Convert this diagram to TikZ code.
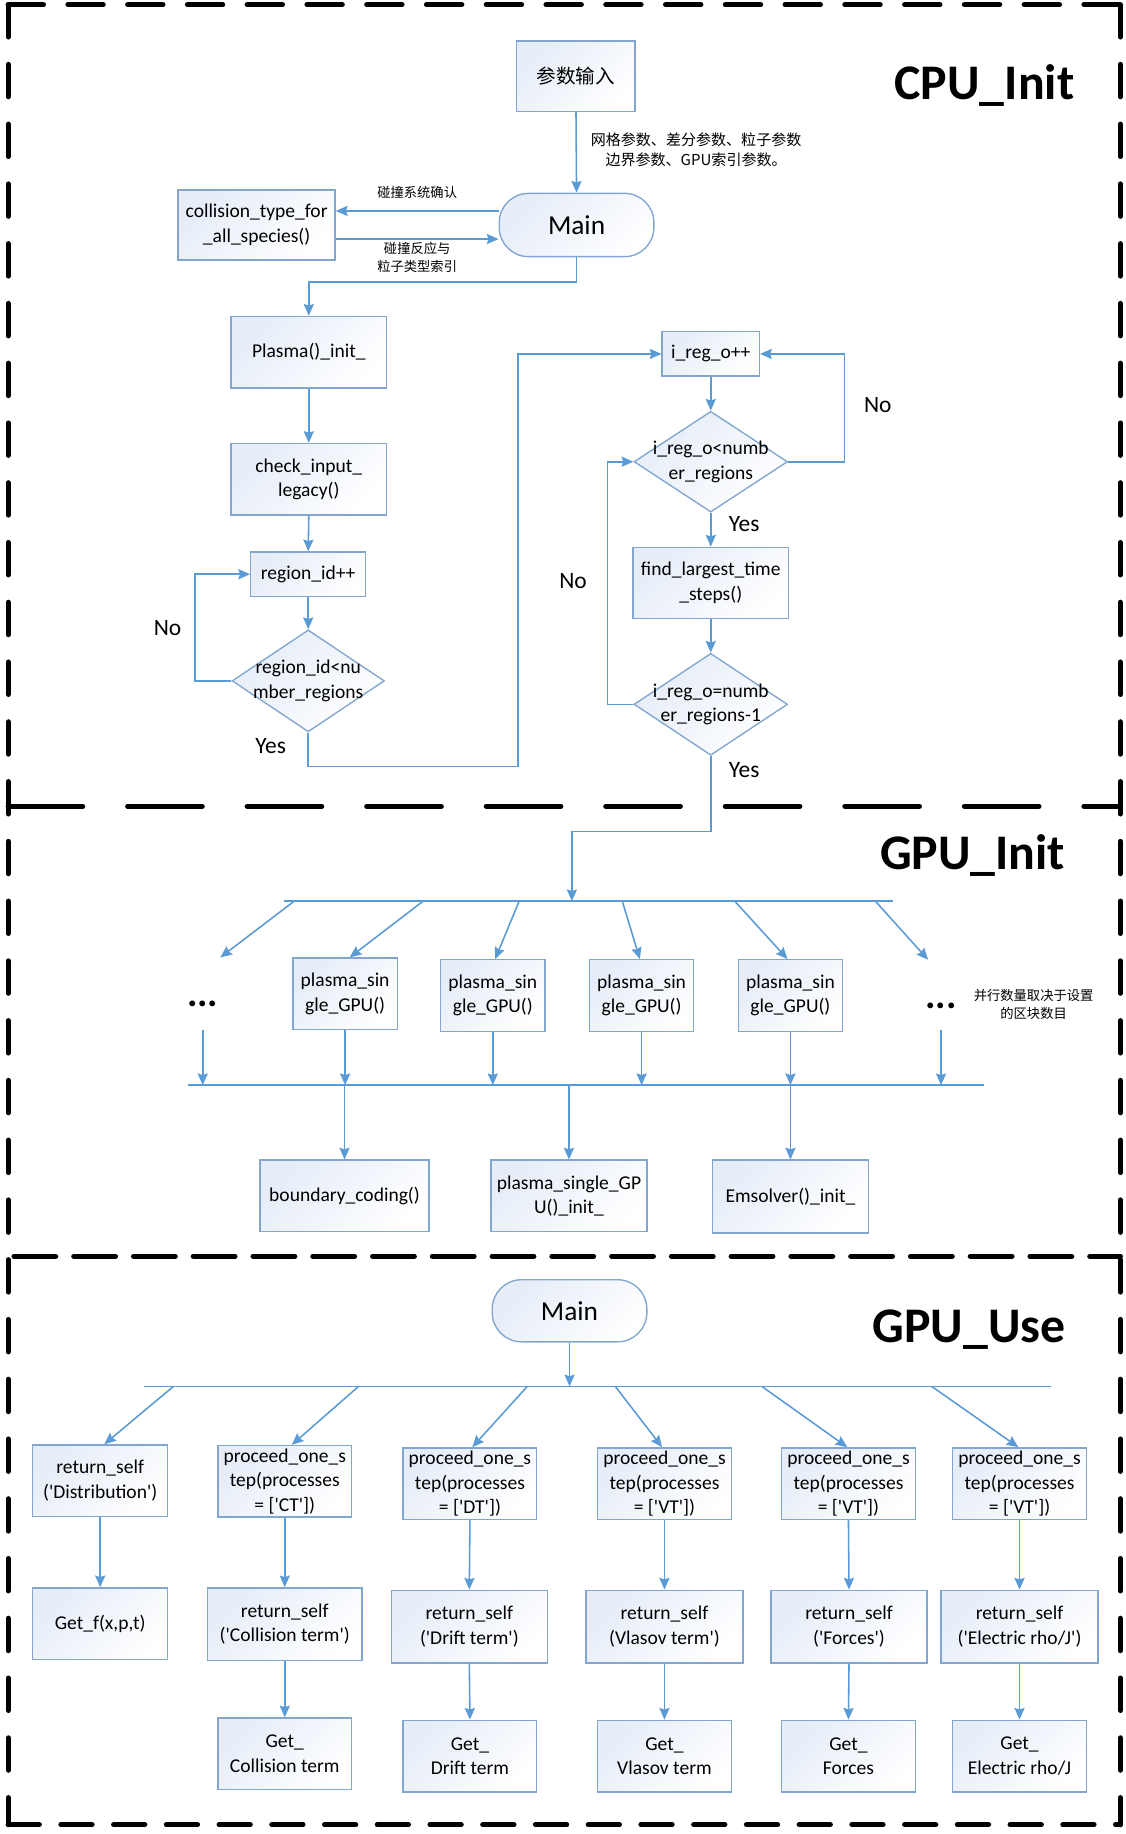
\documentclass[tikz,border=0pt]{standalone}
\usepackage{fontspec}
\setmainfont{Carlito}
\newfontfamily\cjk{Noto Sans CJK SC}
\usetikzlibrary{shapes.geometric,arrows.meta,calc}
\definecolor{arrc}{RGB}{91,155,213}
\definecolor{boxc}{RGB}{130,166,208}
\definecolor{fillc}{RGB}{230,237,248}
\def\U{0.6pt}
\newcommand\qs{\textquotesingle}
\begin{document}
\begin{tikzpicture}[x=0.6pt,y=-0.6pt,
  box/.style={draw=boxc, line width=0.7pt, top color=fillc, bottom color=white, middle color=white!45!fillc, shading angle=45, inner sep=0pt, align=center, font=\fontsize{10}{12.6}\selectfont},
  stad/.style={box, rounded corners=15pt, font=\fontsize{14}{16}\selectfont},
  dia/.style={box, diamond, aspect=1.5},
  arr/.style={draw=arrc, line width=0.8pt, -{Stealth[length=6pt,width=5.2pt,inset=0.8pt]}},
  bus/.style={draw=arrc, line width=0.8pt},
  yn/.style={font=\fontsize{12}{14}\selectfont, inner sep=0pt},
  note/.style={font=\cjk\fontsize{6.8}{9}\selectfont, align=center, inner sep=0pt},
  title/.style={font=\bfseries\fontsize{25.5}{28}\selectfont, inner sep=0pt, anchor=base},
  dots/.style={font=\bfseries\fontsize{20}{20}\selectfont, inner sep=0pt},
  brd/.style={line width=2.7pt, line cap=round, draw=black},
]
\useasboundingbox (0,0) rectangle (960,1565);

% ---------------- borders ----------------
\draw[brd, dash pattern=on 18pt off 12.6pt] (7,4) -- (956,4);
\draw[brd, dash pattern=on 16.5pt off 14.1pt] (7,4) -- (7,1557);
\draw[brd, dash pattern=on 16.5pt off 14.1pt] (956,4) -- (956,1557);
\draw[brd, dash pattern=on 38.1pt off 23.1pt] (7,688) -- (956,688);
\draw[brd, dash pattern=on 21.3pt off 9.3pt] (12,1072) -- (956,1072);
\draw[brd, dash pattern=on 15.9pt off 11.1pt] (7,1557) -- (956,1557);

% ---------------- titles ----------------
\node[title] (t1) at (840,85) {CPU\_Init};
\node[title] (t2) at (830,742) {GPU\_Init};
\node[title] (t3) at (827,1146) {GPU\_Use};

% ---------------- CPU_Init ----------------
\node[box, minimum width=101*\U, minimum height=60*\U, font=\cjk\fontsize{10}{12}\selectfont] (inp) at (491.5,65) {参数输入};
\node[stad, minimum width=132*\U, minimum height=54*\U] (main1) at (492,192) {Main};
\node[box, minimum width=134*\U, minimum height=60*\U] (coll) at (219,192) {collision\_type\_for\\\_all\_species()};
\node[box, minimum width=133*\U, minimum height=61*\U] (plasma) at (263.5,300.5) {Plasma()\_init\_};
\node[box, minimum width=133*\U, minimum height=61*\U] (check) at (263.5,409) {check\_input\_\\legacy()};
\node[box, minimum width=98*\U, minimum height=38*\U] (rid) at (263,490) {region\_id++};
\node[dia, minimum width=130*\U, minimum height=87*\U] (d1) at (263,581) {\makebox[0pt]{region\_id<nu}\\\makebox[0pt]{mber\_regions}};
\node[box, minimum width=83*\U, minimum height=38*\U] (ireg) at (606.5,302) {i\_reg\_o++};
\node[dia, minimum width=131*\U, minimum height=86*\U] (d2) at (606.5,394) {\makebox[0pt]{i\_reg\_o<numb}\\\makebox[0pt]{er\_regions}};
\node[box, minimum width=133*\U, minimum height=61*\U] (find) at (606.5,497.5) {find\_largest\_time\\\_steps()};
\node[dia, minimum width=131*\U, minimum height=87*\U] (d3) at (606.5,601) {\makebox[0pt]{i\_reg\_o=numb}\\\makebox[0pt]{er\_regions-1}};

\node[note, font=\cjk\fontsize{7.7}{10.5}\selectfont] (n1) at (594,128) {网格参数、差分参数、粒子参数\\边界参数、GPU索引参数。};
\node[note] (n2) at (356,164.5) {碰撞系统确认};
\node[note] (n3) at (356,219.5) {碰撞反应与\\粒子类型索引};

\node[yn] (no1) at (143,536) {No};
\node[yn] (yes1) at (231,637) {Yes};
\node[yn] (no2) at (749,346) {No};
\node[yn] (yes2) at (635,447) {Yes};
\node[yn] (no3) at (489,496) {No};
\node[yn] (yes3) at (635,657) {Yes};

\draw[arr] (inp.south) -- (main1.north);
\draw[arr] ([yshift=7.2pt]main1.west) -- ([yshift=7.2pt]coll.east);
\draw[arr] ([yshift=-7.2pt]coll.east) -- ([yshift=-7.2pt]main1.west);
\draw[arr] (main1.south) -- ++(0,21) -| (plasma.north);
\draw[arr] (plasma.south) -- (check.north);
\draw[arr] (check.south) -- (rid.north);
\draw[arr] (rid.south) -- (d1.north);
\draw[arr] (d1.west) -- ++(-31,0) |- (rid.west);
\coordinate (ycor) at (442,654);
\draw[arr] (d1.south) |- (ycor) |- (ireg.west);
\draw[arr] (ireg.south) -- (d2.north);
\draw[arr] (d2.east) -- ++(48,0) |- (ireg.east);
\draw[arr] (d2.south) -- (find.north);
\draw[arr] (find.south) -- (d3.north);
\draw[arr] (d3.west) -- ++(-22,0) |- (d2.west);

% ---------------- GPU_Init ----------------
\coordinate (b1L) at (242,769);
\coordinate (b1R) at (762,769);
\coordinate (b1in) at (488,769);
\draw[bus] (b1L) -- (b1R);
\draw[arr] (d3.south) -- ++(0,64.5) -| (b1in);

\node[box, minimum width=89*\U, minimum height=61*\U] (g1) at (294.5,848) {plasma\_sin\\gle\_GPU()};
\node[box, minimum width=89*\U, minimum height=61*\U] (g2) at (420.5,849.5) {plasma\_sin\\gle\_GPU()};
\node[box, minimum width=89*\U, minimum height=61*\U] (g3) at (547.5,849.5) {plasma\_sin\\gle\_GPU()};
\node[box, minimum width=89*\U, minimum height=61*\U] (g4) at (674.5,849.5) {plasma\_sin\\gle\_GPU()};
\node[dots] (dl) at (173,857) {...};
\node[dots] (dr) at (803,858) {...};
\node[note] (n4) at (882,857) {并行数量取决于设置\\的区块数目};

\coordinate (tp1) at (251,769);
\coordinate (tp2) at (361,769);
\coordinate (tp3) at (443,769);
\coordinate (tp4) at (531,769);
\coordinate (tp5) at (627,769);
\coordinate (tp6) at (747,769);
\coordinate (dlt) at (188,817);
\coordinate (drt) at (792,819);
\draw[arr] (tp1) -- (dlt);
\draw[arr] (tp2) -- ([xshift=2.4pt]g1.north);
\draw[arr] (tp3) -- ([xshift=1.2pt]g2.north);
\draw[arr] (tp4) -- ([xshift=-0.9pt]g3.north);
\draw[arr] (tp5) -- ([xshift=-1.5pt]g4.north);
\draw[arr] (tp6) -- (drt);

\coordinate (b2L) at (160,926);
\coordinate (b2R) at (840,926);
\draw[bus] (b2L) -- (b2R);
\coordinate (dlb) at (173,879);
\coordinate (drb) at (803,879);
\draw[arr] (dlb) -- (dlb |- b2L);
\draw[arr] (drb) -- (drb |- b2L);
\draw[arr] (g1.south) -- (g1.south |- b2L);
\draw[arr] (g2.south) -- (g2.south |- b2L);
\draw[arr] (g3.south) -- (g3.south |- b2L);
\draw[arr] (g4.south) -- (g4.south |- b2L);

\node[box, minimum width=144*\U, minimum height=61*\U] (bc) at (294,1020.5) {boundary\_coding()};
\node[box, minimum width=133*\U, minimum height=61*\U] (ps) at (485.5,1020.5) {plasma\_single\_GP\\U()\_init\_};
\node[box, minimum width=133*\U, minimum height=62*\U] (em) at (674.5,1021) {Emsolver()\_init\_};
\draw[arr] (bc.north |- b2L) -- (bc.north);
\draw[arr] (ps.north |- b2L) -- (ps.north);
\draw[arr] (em.north |- b2L) -- (em.north);

% ---------------- GPU_Use ----------------
\node[stad, minimum width=132*\U, minimum height=53*\U] (main2) at (486,1118.5) {Main};
\coordinate (b3L) at (123,1183);
\coordinate (b3R) at (897,1183);
\draw[bus] (b3L) -- (b3R);
\draw[arr] (main2.south) -- (main2.south |- b3L);

\node[box, minimum width=115*\U, minimum height=61*\U] (r1a) at (85.5,1263.5) {return\_self\\(\qs Distribution\qs)};
\node[box, minimum width=114*\U, minimum height=61*\U] (r1b) at (243,1264) {proceed\_one\_s\\tep(processes\\= [\qs CT\qs])};
\node[box, minimum width=114*\U, minimum height=61*\U] (r1c) at (401,1266) {proceed\_one\_s\\tep(processes\\= [\qs DT\qs])};
\node[box, minimum width=114*\U, minimum height=61*\U] (r1d) at (567,1266) {proceed\_one\_s\\tep(processes\\= [\qs VT\qs])};
\node[box, minimum width=114*\U, minimum height=61*\U] (r1e) at (724,1266) {proceed\_one\_s\\tep(processes\\= [\qs VT\qs])};
\node[box, minimum width=114*\U, minimum height=61*\U] (r1f) at (870,1266) {proceed\_one\_s\\tep(processes\\= [\qs VT\qs])};

\coordinate (tq1) at (148,1183);
\coordinate (tq2) at (306,1183);
\coordinate (tq3) at (450,1183);
\coordinate (tq4) at (525,1183);
\coordinate (tq5) at (650,1183);
\coordinate (tq6) at (795,1183);
\draw[arr] (tq1) -- ([xshift=2.1pt]r1a.north);
\draw[arr] (tq2) -- ([xshift=3.6pt]r1b.north);
\draw[arr] (tq3) -- ([xshift=1.2pt]r1c.north);
\draw[arr] (tq4) -- ([xshift=-1.2pt]r1d.north);
\draw[arr] (tq5) -- ([xshift=-0.6pt]r1e.north);
\draw[arr] (tq6) -- ([xshift=-0.6pt]r1f.north);

\node[box, minimum width=115*\U, minimum height=61*\U] (r2a) at (85.5,1385.5) {Get\_f(x,p,t)};
\node[box, minimum width=132*\U, minimum height=62*\U] (r2b) at (243,1386) {return\_self\\(\qs Collision term\qs)};
\node[box, minimum width=133*\U, minimum height=62*\U] (r2c) at (400.5,1388) {return\_self\\(\qs Drift term\qs)};
\node[box, minimum width=134*\U, minimum height=62*\U] (r2d) at (567,1388) {return\_self\\(Vlasov term\qs)};
\node[box, minimum width=133*\U, minimum height=62*\U] (r2e) at (724.5,1388) {return\_self\\(\qs Forces\qs)};
\node[box, minimum width=134*\U, minimum height=62*\U] (r2f) at (870,1388) {return\_self\\(\qs Electric rho/J\qs)};

\node[box, minimum width=114*\U, minimum height=61*\U] (r3b) at (243,1496.5) {Get\_\\Collision term};
\node[box, minimum width=114*\U, minimum height=61*\U] (r3c) at (401,1498.5) {Get\_\\Drift term};
\node[box, minimum width=114*\U, minimum height=61*\U] (r3d) at (567,1498.5) {Get\_\\Vlasov term};
\node[box, minimum width=114*\U, minimum height=61*\U] (r3e) at (724,1498.5) {Get\_\\Forces};
\node[box, minimum width=114*\U, minimum height=61*\U] (r3f) at (870,1498.5) {Get\_\\Electric rho/J};

\draw[arr] (r1a.south) -- (r2a.north);
\draw[arr] (r1b.south) -- (r2b.north);
\draw[arr] (r1c.south) -- (r2c.north);
\draw[arr] (r1d.south) -- (r2d.north);
\draw[arr] (r1e.south) -- (r2e.north);
\draw[arr] (r1f.south) -- (r2f.north);
\draw[arr] (r2b.south) -- (r3b.north);
\draw[arr] (r2c.south) -- (r3c.north);
\draw[arr] (r2d.south) -- (r3d.north);
\draw[arr] (r2e.south) -- (r3e.north);
\draw[arr] (r2f.south) -- (r3f.north);
\end{tikzpicture}
\end{document}
